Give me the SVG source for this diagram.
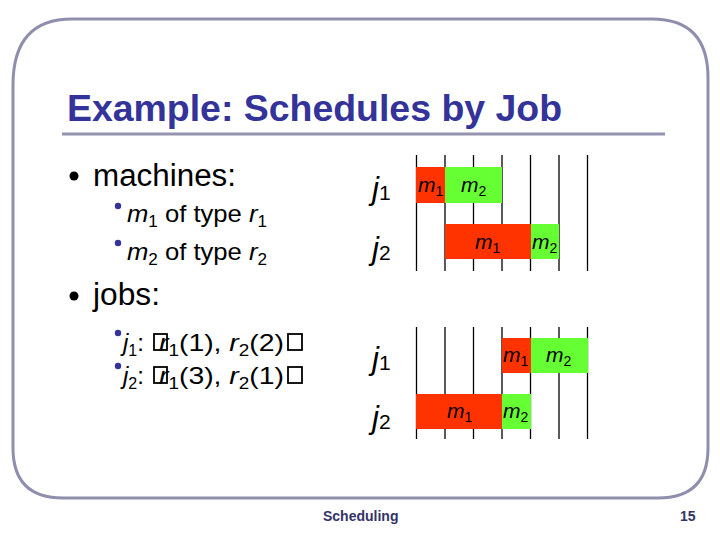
<svg xmlns="http://www.w3.org/2000/svg" width="720" height="540" viewBox="0 0 720 540">
<style>
.t{font-family:"Liberation Sans",Arial,sans-serif;fill:#000}
.i{font-style:italic}
.s{font-size:16px;font-style:normal}
.title{font-family:"Liberation Sans",Arial,sans-serif;font-weight:bold;font-size:37px;fill:#333399}
.foot{font-family:"Liberation Sans",Arial,sans-serif;font-weight:bold;font-size:14px;fill:#333366}
.grid line{stroke:#000;stroke-width:1.3}
.red{fill:#ff3300}
.green{fill:#66ff33}
.box{fill:none;stroke:#000;stroke-width:1.8}
.lbl{font-family:"Liberation Sans",Arial,sans-serif;font-size:21px;font-style:italic;fill:#000}
.jl{font-family:"Liberation Sans",Arial,sans-serif;font-size:31px;font-style:italic;fill:#000}
</style>
<rect x="0" y="0" width="720" height="540" fill="#fff"/>
<path d="M72,19 L652,19 Q708,19 708,78 L708,448 Q708,498 658,498 L63,498 Q13,498 13,448 L13,85 Q13,19 72,19 Z" fill="none" stroke="#8f8fad" stroke-width="3"/>
<text class="title" x="67" y="121" textLength="495" lengthAdjust="spacingAndGlyphs">Example: Schedules by Job</text>
<line x1="62" y1="134" x2="665" y2="134" stroke="#9494b0" stroke-width="3"/>

<g id="left-text">
<circle cx="74" cy="176" r="4.5" fill="#000"/>
<text class="t" x="93" y="186" font-size="31" textLength="143" lengthAdjust="spacingAndGlyphs">machines:</text>
<circle cx="118" cy="206" r="3.2" fill="#333399"/>
<text class="t" x="127" y="222" font-size="24" textLength="140" lengthAdjust="spacingAndGlyphs"><tspan class="i">m</tspan><tspan class="s" dy="5">1</tspan><tspan dy="-5"> of type </tspan><tspan class="i">r</tspan><tspan class="s" dy="5">1</tspan></text>
<circle cx="118" cy="243" r="3.2" fill="#333399"/>
<text class="t" x="127" y="260" font-size="24" textLength="140" lengthAdjust="spacingAndGlyphs"><tspan class="i">m</tspan><tspan class="s" dy="5">2</tspan><tspan dy="-5"> of type </tspan><tspan class="i">r</tspan><tspan class="s" dy="5">2</tspan></text>
<circle cx="74" cy="296" r="4.5" fill="#000"/>
<text class="t" x="93" y="305" font-size="31" textLength="67" lengthAdjust="spacingAndGlyphs">jobs:</text>
<circle cx="118" cy="333" r="3.2" fill="#333399"/>
<text class="t" x="123" y="351" font-size="24"><tspan class="i">j</tspan><tspan class="s" dy="5">1</tspan><tspan dy="-5">: </tspan></text>
<rect class="box" x="154" y="334" width="13" height="16"/>
<text class="t" x="159" y="351" font-size="24" textLength="125" lengthAdjust="spacingAndGlyphs"><tspan class="i">r</tspan><tspan class="s" dy="5">1</tspan><tspan dy="-5">(1), </tspan><tspan class="i">r</tspan><tspan class="s" dy="5">2</tspan><tspan dy="-5">(2)</tspan></text>
<rect class="box" x="288" y="334" width="14" height="16"/>
<circle cx="118" cy="366" r="3.2" fill="#333399"/>
<text class="t" x="123" y="384" font-size="24"><tspan class="i">j</tspan><tspan class="s" dy="5">2</tspan><tspan dy="-5">: </tspan></text>
<rect class="box" x="154" y="367" width="13" height="16"/>
<text class="t" x="159" y="384" font-size="24" textLength="125" lengthAdjust="spacingAndGlyphs"><tspan class="i">r</tspan><tspan class="s" dy="5">1</tspan><tspan dy="-5">(3), </tspan><tspan class="i">r</tspan><tspan class="s" dy="5">2</tspan><tspan dy="-5">(1)</tspan></text>
<rect class="box" x="288" y="367" width="14" height="16"/>
</g>

<g id="schedule-1">
<g class="grid">
<line x1="416.5" y1="155" x2="416.5" y2="271"/>
<line x1="445" y1="155" x2="445" y2="271"/>
<line x1="473.5" y1="155" x2="473.5" y2="271"/>
<line x1="502" y1="155" x2="502" y2="271"/>
<line x1="530.5" y1="155" x2="530.5" y2="271"/>
<line x1="559" y1="155" x2="559" y2="271"/>
<line x1="587.5" y1="155" x2="587.5" y2="271"/>
</g>
<rect class="red" x="416" y="167" width="29" height="36"/>
<rect class="green" x="445" y="167" width="57" height="36"/>
<rect class="red" x="445" y="224" width="86" height="35"/>
<rect class="green" x="531" y="224" width="28" height="35"/>
<text class="lbl" x="418" y="192">m<tspan font-size="14" dy="4" font-style="normal">1</tspan></text>
<text class="lbl" x="461" y="192">m<tspan font-size="14" dy="4" font-style="normal">2</tspan></text>
<text class="lbl" x="475" y="249">m<tspan font-size="14" dy="4" font-style="normal">1</tspan></text>
<text class="lbl" x="532" y="249">m<tspan font-size="14" dy="4" font-style="normal">2</tspan></text>
<text class="jl" x="372" y="199">j<tspan font-size="21" dy="1" font-style="normal">1</tspan></text>
<text class="jl" x="372" y="259">j<tspan font-size="21" dy="1" font-style="normal">2</tspan></text>
</g>

<g id="schedule-2">
<g class="grid">
<line x1="416.5" y1="327" x2="416.5" y2="439"/>
<line x1="445" y1="327" x2="445" y2="439"/>
<line x1="473.5" y1="327" x2="473.5" y2="439"/>
<line x1="502" y1="327" x2="502" y2="439"/>
<line x1="530.5" y1="327" x2="530.5" y2="439"/>
<line x1="559" y1="327" x2="559" y2="439"/>
<line x1="587.5" y1="327" x2="587.5" y2="439"/>
</g>
<rect class="red" x="502" y="338" width="29" height="35"/>
<rect class="green" x="531" y="338" width="57" height="35"/>
<rect class="red" x="416" y="394" width="86" height="35"/>
<rect class="green" x="502" y="394" width="29" height="35"/>
<text class="lbl" x="503" y="362">m<tspan font-size="14" dy="4" font-style="normal">1</tspan></text>
<text class="lbl" x="546" y="362">m<tspan font-size="14" dy="4" font-style="normal">2</tspan></text>
<text class="lbl" x="447" y="418">m<tspan font-size="14" dy="4" font-style="normal">1</tspan></text>
<text class="lbl" x="503" y="418">m<tspan font-size="14" dy="4" font-style="normal">2</tspan></text>
<text class="jl" x="372" y="369">j<tspan font-size="21" dy="1" font-style="normal">1</tspan></text>
<text class="jl" x="372" y="428">j<tspan font-size="21" dy="1" font-style="normal">2</tspan></text>
</g>

<text class="foot" x="323" y="521">Scheduling</text>
<text class="foot" x="680" y="521">15</text>
</svg>
